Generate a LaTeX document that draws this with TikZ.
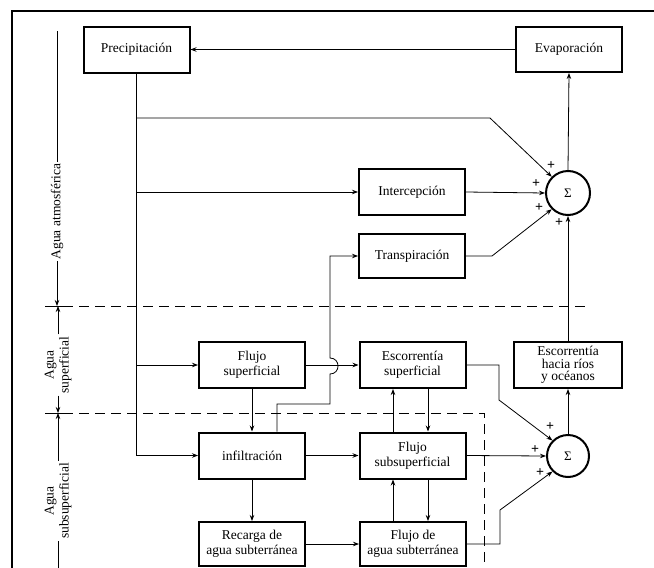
\documentclass[tikz,border=0pt]{standalone}
\usepackage{fontspec}
\setmainfont{Liberation Serif}
\usetikzlibrary{arrows.meta,calc}
\begin{document}
\begin{tikzpicture}[x=1pt,y=-1pt,
  box/.style={draw, line width=2pt, minimum width=106pt, minimum height=46pt, inner sep=2pt, align=center, font=\fontsize{13.5}{15}\selectfont},
  conn/.style={line width=0.8pt},
  arr/.style={conn, -{Stealth[length=6pt,width=4.5pt]}},
  sumnode/.style={circle, draw, line width=2pt, minimum size=44pt, inner sep=0pt, font=\fontsize{13}{13}\selectfont},
  pl/.style={font=\fontsize{14}{14}\selectfont\bfseries, inner sep=0pt},
  lab/.style={rotate=90, align=center, inner sep=2pt, font=\fontsize{13.5}{15}\selectfont},
  dsh/.style={line width=1pt, dash pattern=on 10pt off 6pt}]
\useasboundingbox (0,0) rectangle (654,568);
% frame
\draw[line width=1.8pt] (12,568) -- (12,11) -- (654,11);
% boxes
\node[box] (precip) at (136.5,49.5) {Precipitación};
\node[box, minimum height=45pt] (evap) at (569,49.5) {Evaporación};
\node[box] (interc) at (412,192) {Intercepción};
\node[box, minimum height=44pt] (transp) at (412,256) {Transpiración};
\node[box] (fsup) at (252,365) {Flujo\\superficial};
\node[box] (esup) at (412.5,365) {Escorrentía\\superficial};
\node[box, minimum width=108pt, font=\fontsize{13.5}{12.5}\selectfont] (erios) at (568,365) {Escorrentía\\hacia ríos\\y océanos};
\node[box] (infil) at (252,455.5) {infiltración};
\node[box] (fsub) at (412.5,455.5) {Flujo\\subsuperficial};
\node[box, minimum height=44pt] (recarga) at (252,544) {Recarga de\\agua subterránea};
\node[box, minimum height=44pt] (fagua) at (413,544) {Flujo de\\agua subterránea};
\node[sumnode] (s1) at (568,193) {Σ};
\node[sumnode, minimum size=42pt] (s2) at (568,456) {Σ};
% plus signs
\node[pl] (p1) at (551,166) {+};
\node[pl] (p2) at (536,184) {+};
\node[pl] (p3) at (539,208) {+};
\node[pl] (p4) at (559,223) {+};
\node[pl] (p5) at (550,427) {+};
\node[pl] (p6) at (535,450) {+};
\node[pl] (p7) at (540,473) {+};
% helper coordinates
\coordinate (k1) at (490,118);
\coordinate (k2) at (492,256);
\coordinate (e1) at (499,400);
\coordinate (e2) at (500,510);
\coordinate (h2) at (330,404);
\coordinate (hb) at (330,374);
\coordinate (ht) at (330,358);
% connectors
\draw[arr] (evap.west) -- (precip.east);
\draw[arr] (s1.north) -- (evap.south);
\draw[arr] (erios.north) -- (s1.south);
\draw[arr] (s2.north) -- (erios.south);
\draw[arr] (precip.south) |- (infil.west);
\draw[arr] (precip.south |- k1) -- (k1) -- (s1.135);
\draw[arr] (precip.south |- interc.west) -- (interc.west);
\draw[arr] (precip.south |- fsup.west) -- (fsup.west);
\draw[arr] (interc.east) -- (s1.west);
\draw[arr] (transp.east) -- (k2) -- (s1.-135);
\draw[arr] (fsup.east) -- (esup.west);
\draw[arr] (fsup.south) -- (infil.north);
\draw[arr] (infil.south) -- (recarga.north);
\draw[arr] (infil.east) -- (fsub.west);
\draw[arr] (recarga.east) -- (fagua.west);
\draw[arr] ([xshift=-19.5pt]fsub.north) -- ([xshift=-19.5pt]esup.south);
\draw[arr] ([xshift=15.5pt]esup.south) -- ([xshift=15.5pt]fsub.north);
\draw[arr] ([xshift=-19.5pt]fsub.south |- fagua.north) -- ([xshift=-19.5pt]fsub.south);
\draw[arr] ([xshift=15.5pt]fsub.south) -- ([xshift=15.5pt]fsub.south |- fagua.north);
\draw[arr] (fsub.east) -- (s2.west);
\draw[arr] (esup.east) -| (e1) -- (s2.135);
\draw[arr] (fagua.east) -| (e2) -- (s2.-135);
\draw[arr] ([xshift=25pt]infil.north) |- (h2) -- (hb) .. controls +(10.7,0) and +(10.7,0) .. (ht) |- (transp.west);
% dashed boundaries
\coordinate (d1a) at (63,306);
\coordinate (d1b) at (587,306);
\coordinate (d2a) at (63,413);
\coordinate (d2b) at (484,413);
\coordinate (d2c) at (484,568);
\draw[dsh] (d1a) -- (d1b);
\draw[dsh] (d2a) -- (d2b) -- (d2c);
% side labels
\node[lab] (la) at (57,211.5) {Agua atmosférica};
\node[lab] (ls) at (58,365) {Agua\\superficial};
\node[lab] (lss) at (58,501) {Agua\\subsuperficial};
\coordinate (t0) at (57,31);
\coordinate (t1) at (57,306);
\coordinate (t2) at (58,306);
\coordinate (t3) at (58,413);
\coordinate (t4) at (58,568);
\coordinate (tk1) at (45,306);
\coordinate (tk2) at (45,413);
\draw[conn] (t0) -- (la.east);
\draw[arr] (la.west) -- (t1);
\draw[arr] (ls.east) -- (t2);
\draw[arr] (ls.west) -- (t3);
\draw[arr] (lss.east) -- (t3);
\draw[conn] (lss.west) -- (t4);
\draw[conn] (tk1) -- (d1a);
\draw[conn] (tk2) -- (d2a);
\end{tikzpicture}
\end{document}
